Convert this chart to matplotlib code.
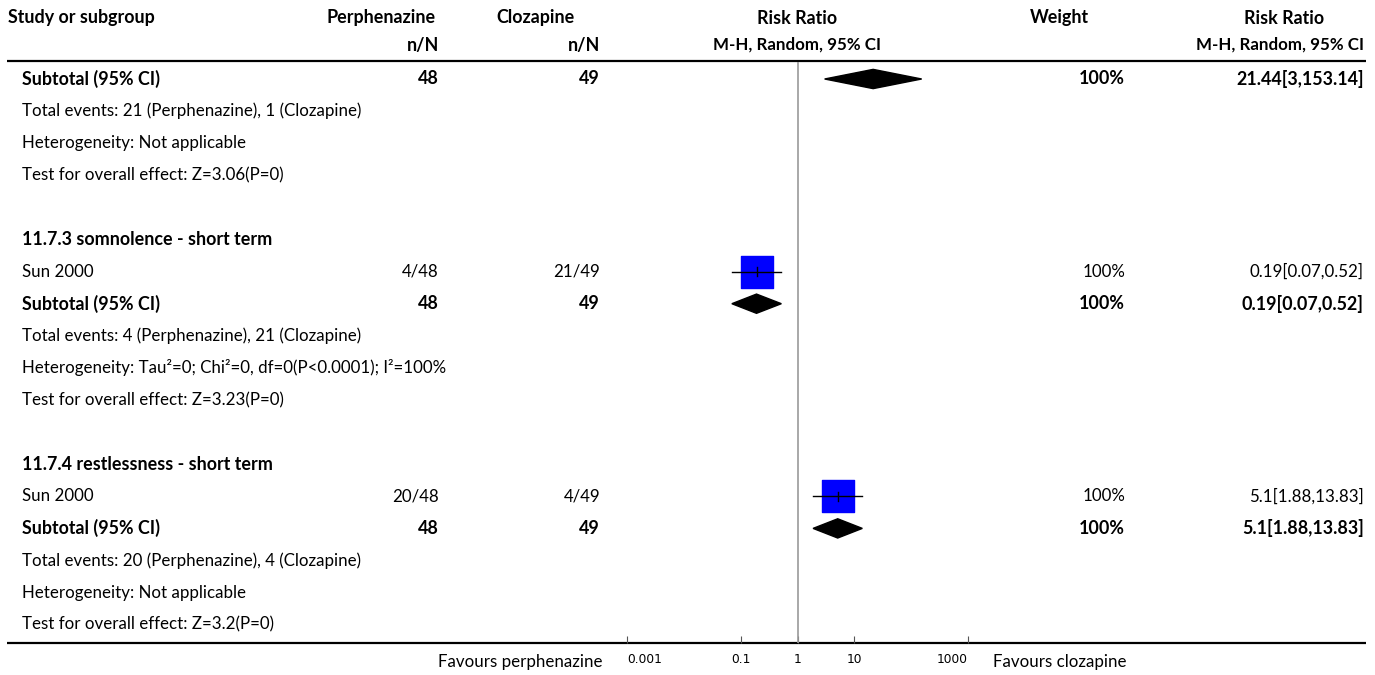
import numpy as np
import matplotlib
matplotlib.use('Agg')
import matplotlib.pyplot as plt
from matplotlib.patches import Polygon

plt.rcParams['font.family'] = ['Lato', 'DejaVu Sans']

# data
study_names = ["Sun 2000", "Sun 2000"]
study_rows = [6, 13]
perph_events = [4, 20]
perph_total = [48, 48]
cloz_events = [21, 4]
cloz_total = [49, 49]
study_rr = [0.19, 5.1]
study_lo = [0.07, 1.88]
study_hi = [0.52, 13.83]
study_weight = ["100%", "100%"]

sub_rows = [0, 7, 14]
sub_perph_n = [48, 48, 48]
sub_cloz_n = [49, 49, 49]
sub_rr = [21.44, 0.19, 5.1]
sub_lo = [3, 0.07, 1.88]
sub_hi = [153.14, 0.52, 13.83]
sub_weight = ["100%", "100%", "100%"]

group_titles = ["11.7.3 somnolence - short term", "11.7.4 restlessness - short term"]
group_rows = [5, 12]

note_rows = [1, 2, 3, 8, 9, 10, 15, 16, 17]
note_texts = [
    "Total events: 21 (Perphenazine), 1 (Clozapine)",
    "Heterogeneity: Not applicable",
    "Test for overall effect: Z=3.06(P=0)",
    "Total events: 4 (Perphenazine), 21 (Clozapine)",
    "Heterogeneity: Tau\u00b2=0; Chi\u00b2=0, df=0(P<0.0001); I\u00b2=100%",
    "Test for overall effect: Z=3.23(P=0)",
    "Total events: 20 (Perphenazine), 4 (Clozapine)",
    "Heterogeneity: Not applicable",
    "Test for overall effect: Z=3.2(P=0)",
]

tick_vals = [0.001, 0.1, 1, 10, 1000]
tick_labels = ["0.001", "0.1", "1", "10", "1000"]

W, H = 1375, 675
fig = plt.figure(figsize=(W / 100, H / 100), dpi=100)

# text layer in pixel coords
ax = fig.add_axes([0, 0, 1, 1])
ax.set_xlim(0, W)
ax.set_ylim(H, 0)
ax.axis('off')

y0, dy = 79, 32.1
def ypx(r):
    return y0 + dy * r

fs = 12.2   # normal text
fb = 12.9   # bold text
# header
hdr = dict(fontsize=fb, fontweight='bold', va='center')
ax.text(8, 18, "Study or subgroup", ha='left', **hdr)
ax.text(381, 18, "Perphenazine", ha='center', **hdr)
ax.text(439, 45, "n/N", ha='right', **hdr)
ax.text(536, 18, "Clozapine", ha='center', **hdr)
ax.text(600, 45, "n/N", ha='right', **hdr)
ax.text(797, 18, "Risk Ratio", ha='center', **hdr)
ax.text(797, 45, "M-H, Random, 95% CI", ha='center', fontsize=12.2, fontweight='bold', va='center')
ax.text(1059, 18, "Weight", ha='center', **hdr)
ax.text(1284, 18, "Risk Ratio", ha='center', **hdr)
ax.text(1364, 45, "M-H, Random, 95% CI", ha='right', fontsize=12.2, fontweight='bold', va='center')

ax.plot([7, 1366], [61, 61], color='black', lw=1.6, solid_capstyle='butt')
ax.plot([7, 1366], [643, 643], color='black', lw=1.6, solid_capstyle='butt')

for r, t in zip(group_rows, group_titles):
    ax.text(22, ypx(r), t, ha='left', va='center', fontsize=fb, fontweight='bold')

for r, t in zip(note_rows, note_texts):
    ax.text(22, ypx(r), t, ha='left', va='center', fontsize=fs)

for i, r in enumerate(study_rows):
    y = ypx(r)
    ax.text(22, y, study_names[i], ha='left', va='center', fontsize=fs)
    ax.text(439, y, f"{perph_events[i]}/{perph_total[i]}", ha='right', va='center', fontsize=fs)
    ax.text(600, y, f"{cloz_events[i]}/{cloz_total[i]}", ha='right', va='center', fontsize=fs)
    ax.text(1125, y, study_weight[i], ha='right', va='center', fontsize=fs)
    ax.text(1364, y, f"{study_rr[i]}[{study_lo[i]},{study_hi[i]}]", ha='right', va='center', fontsize=fs)

for i, r in enumerate(sub_rows):
    y = ypx(r)
    ax.text(22, y, "Subtotal (95% CI)", ha='left', va='center', fontsize=fb, fontweight='bold')
    ax.text(439, y, str(sub_perph_n[i]), ha='right', va='center', fontsize=fb, fontweight='bold')
    ax.text(600, y, str(sub_cloz_n[i]), ha='right', va='center', fontsize=fb, fontweight='bold')
    ax.text(1125, y, sub_weight[i], ha='right', va='center', fontsize=fb, fontweight='bold')
    ax.text(1364, y, f"{sub_rr[i]}[{sub_lo[i]},{sub_hi[i]}]", ha='right', va='center', fontsize=fb, fontweight='bold')

ax.text(603, 662, "Favours perphenazine", ha='right', va='center', fontsize=fs)
ax.text(993, 662, "Favours clozapine", ha='left', va='center', fontsize=fs)

# forest plot axes
left, right = 627, 968
top, bot = 62, 643
fax = fig.add_axes([left / W, 1 - bot / H, (right - left) / W, (bot - top) / H])
fax.set_xscale('log')
fax.set_xlim(tick_vals[0], tick_vals[-1])
fax.set_ylim((bot - y0) / dy, (top - y0) / dy)
fax.patch.set_alpha(0)
for s in fax.spines.values():
    s.set_visible(False)
fax.set_yticks([])
fax.set_xticks(tick_vals)
fax.set_xticklabels(tick_labels, family='DejaVu Sans', fontsize=8.8)
labs = fax.get_xticklabels()
labs[0].set_horizontalalignment('left')
labs[-1].set_horizontalalignment('right')
fax.xaxis.set_minor_locator(matplotlib.ticker.NullLocator())
fax.tick_params(axis='x', direction='in', length=5, width=0.8, color='#555555', pad=7)

fax.axvline(1, color='#999999', lw=1.2)

for i, r in enumerate(study_rows):
    fax.scatter([study_rr[i]], [r], marker='s', s=500, color='#0000ff', zorder=2)
    fax.plot([study_lo[i], study_hi[i]], [r, r], color='black', lw=1.0, zorder=3)
    fax.plot([study_rr[i], study_rr[i]], [r - 0.14, r + 0.14], color='black', lw=1.0, zorder=3)

for i, r in enumerate(sub_rows):
    h = 0.3
    pts = [(sub_lo[i], r), (sub_rr[i], r - h), (sub_hi[i], r), (sub_rr[i], r + h)]
    fax.add_patch(Polygon(pts, closed=True, color='black', zorder=3))

fig.savefig('out.png', dpi=100)
